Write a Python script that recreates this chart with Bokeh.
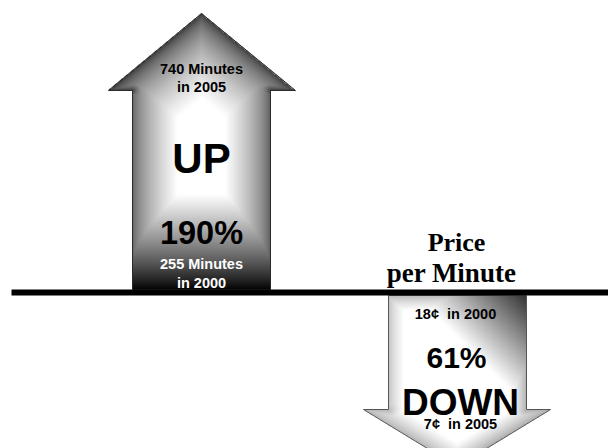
import numpy as np
from bokeh.plotting import figure
from bokeh.models import Range1d
from bokeh.core.properties import value
from bokeh.embed import file_html
from bokeh.resources import INLINE

# ---- data ----
years = [2000, 2005]
minutes_per_month = [255, 740]
minutes_change = "190%"
price_cents = [18, 7]
price_change = "61%"
title_lines = ["Price", "per Minute"]

# ---- figure: one data unit == one screen pixel (y grows downward) ----
W, H = 608, 448
p = figure(width=W, height=H, x_range=Range1d(0, W), y_range=Range1d(H, 0),
           output_backend="svg", toolbar_location=None,
           x_axis_location=None, y_axis_location=None, min_border=0)
p.grid.visible = False
p.outline_line_color = None
p.background_fill_color = "white"
p.border_fill_color = "white"


def seg_dist(X, Y, a, b):
    ax, ay = a
    bx, by = b
    dx, dy = bx - ax, by - ay
    L2 = dx * dx + dy * dy
    t = np.clip(((X - ax) * dx + (Y - ay) * dy) / L2, 0, 1)
    return np.hypot(X - (ax + t * dx), Y - (ay + t * dy))


def shade_image(bbox, inside, edges, extra=None):
    x0, y0, x1, y1 = bbox
    w, h = x1 - x0, y1 - y0
    X, Y = np.meshgrid(np.arange(w) + x0 + 0.5, np.arange(h) + y0 + 0.5)
    val = np.full(X.shape, 255.0)
    for a, b, c, D, g in edges:
        d = seg_dist(X, Y, a, b)
        val = np.minimum(val, c + (255 - c) * np.clip(d / D, 0, 1) ** g)
    if extra is not None:
        val = np.minimum(val, extra(X, Y))
    m = inside(X, Y)
    rgba = np.zeros((h, w, 4), dtype=np.uint8)
    v = np.clip(val, 0, 255).astype(np.uint8)
    rgba[..., 0] = v
    rgba[..., 1] = v
    rgba[..., 2] = v
    rgba[..., 3] = np.where(m, 255, 0)
    img = rgba.view(np.uint32).reshape(h, w)
    p.image_rgba(image=[img], x=x0, y=y0, dw=w, dh=h)


# ---------- up arrow (minutes) ----------
ux_l, ux_r, uh_l, uh_r, u_tip, u_neck, base_top = 132, 270, 108, 295, 13, 90, 289
ucx = (ux_l + ux_r) / 2
up_xs = [ucx, uh_r, ux_r, ux_r, ux_l, ux_l, uh_l]
up_ys = [u_tip, u_neck, u_neck, base_top, base_top, u_neck, u_neck]


def up_inside(X, Y):
    shaft = (X >= ux_l) & (X <= ux_r) & (Y >= u_neck) & (Y <= base_top)
    half = (uh_r - uh_l) / 2 * (Y - u_tip) / (u_neck - u_tip)
    head = (Y >= u_tip) & (Y <= u_neck) & (np.abs(X - ucx) <= half)
    return shaft | head


up_edges = [
    ((ux_l, u_neck), (ux_l, base_top), 100, 45, 0.7),
    ((ux_r, u_neck), (ux_r, base_top), 90, 45, 0.7),
    ((ux_l, base_top), (ux_r, base_top), 0, 95, 0.85),
    ((uh_l, u_neck), (ucx, u_tip), 45, 65, 0.55),
    ((ucx, u_tip), (uh_r, u_neck), 45, 65, 0.55),
    ((uh_l, u_neck), (ux_l, u_neck), 55, 25, 0.7),
    ((ux_r, u_neck), (uh_r, u_neck), 55, 25, 0.7),
]
shade_image((uh_l - 1, u_tip - 1, uh_r + 1, base_top + 1), up_inside, up_edges)
p.patch(up_xs, up_ys, fill_color=None, line_color="#2a2a2a", line_width=1)

# ---------- down arrow (price) ----------
dx_l, dx_r, dh_l, dh_r, d_top, d_neck, d_tip = 388, 526, 363, 550, 295, 409, 466
dcx = (dh_l + dh_r) / 2
dn_xs = [dx_l, dx_r, dx_r, dh_r, dcx, dh_l, dx_l]
dn_ys = [d_top, d_top, d_neck, d_neck, d_tip, d_neck, d_neck]


def dn_inside(X, Y):
    shaft = (X >= dx_l) & (X <= dx_r) & (Y >= d_top) & (Y <= d_neck)
    half = (dh_r - dh_l) / 2 * (d_tip - Y) / (d_tip - d_neck)
    head = (Y >= d_neck) & (Y <= d_tip) & (np.abs(X - dcx) <= half)
    return shaft | head


dn_edges = [
    ((dx_l, d_top), (dx_r, d_top), 185, 15, 0.8),
    ((dx_l, d_top), (dx_l, d_neck), 195, 15, 0.8),
    ((dx_r, d_top), (dx_r, d_neck), 175, 15, 0.8),
    ((dh_l, d_neck), (dx_l, d_neck), 180, 15, 0.8),
    ((dx_r, d_neck), (dh_r, d_neck), 170, 15, 0.8),
    ((dh_l, d_neck), (dcx, d_tip), 180, 20, 0.8),
    ((dcx, d_tip), (dh_r, d_neck), 170, 20, 0.8),
]


def dn_diag(X, Y):
    u = X - Y
    return 255 - 1.84 * np.maximum(0, u - 120)


shade_image((dh_l - 1, d_top - 1, dh_r + 1, H), dn_inside, dn_edges, dn_diag)
p.patch(dn_xs, dn_ys, fill_color=None, line_color="#555555", line_width=1)

# baseline
p.quad(left=[11], right=[W], top=[289], bottom=[295], fill_color="black", line_color=None)

sans = value("Liberation Sans")
serif = value("Liberation Serif")
sp2 = "\u00a0 "


def label(x, y, txt, size, color="black", font=sans):
    p.text(x=[x], y=[y], text=[txt], text_font=font, text_font_size=f"{size}px",
           text_font_style="bold", text_align="center", text_baseline="alphabetic",
           text_color=color)


label(ucx, 68, f"{minutes_per_month[1]} Minutes", 14.5)
label(ucx, 86, f"in {years[1]}", 14.5)
label(ucx, 158, "UP", 42)
label(ucx, 232, minutes_change, 32.5)
label(ucx, 263, f"{minutes_per_month[0]} Minutes", 14.5, "white")
label(ucx, 282, f"in {years[0]}", 14.5, "white")

label(456, 242, title_lines[0], 26, font=serif)
label(451, 272, title_lines[1], 27, font=serif)

label(455, 313, f"{price_cents[0]}\u00a2{sp2}in {years[0]}", 14.5)
label(456, 357, price_change, 30)
label(460, 402, "DOWN", 37)
label(460, 423, f"{price_cents[1]}\u00a2{sp2}in {years[1]}", 14.5)

open("out.html", "w").write(file_html(p, INLINE))
